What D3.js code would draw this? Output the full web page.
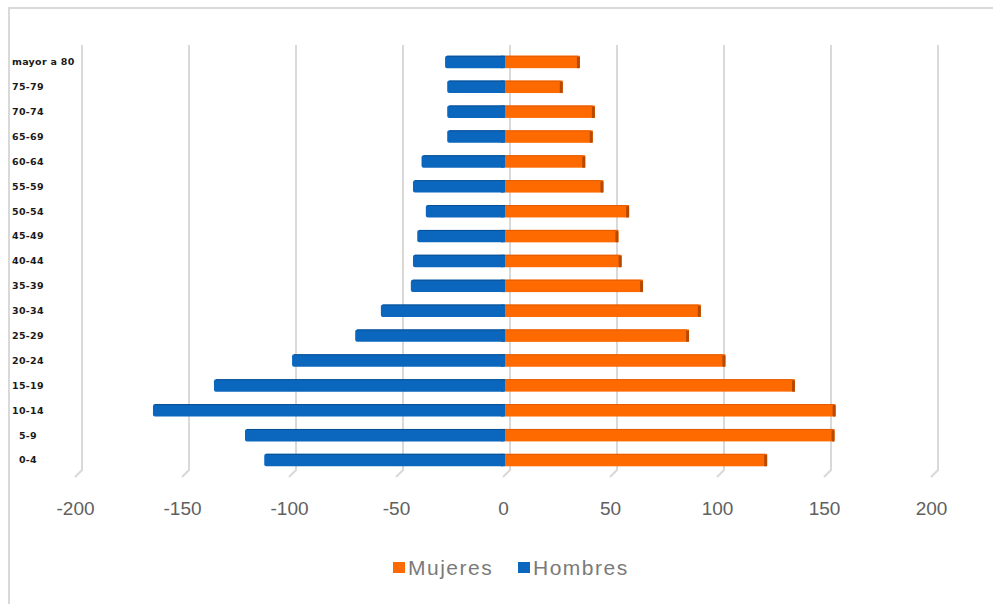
<!DOCTYPE html>
<html>
<head>
<meta charset="utf-8">
<script src="https://cdn.jsdelivr.net/npm/d3@7"></script>
<style>
  html, body { margin: 0; padding: 0; background: #fff; }
  svg { display: block; }
</style>
</head>
<body>
<svg id="chart" width="993" height="604"></svg>
<script>
// ---- data (bottom to top) ----
const categories = ["0-4","5-9","10-14","15-19","20-24","25-29","30-34","35-39","40-44","45-49","50-54","55-59","60-64","65-69","70-74","75-79","mayor a 80"];
const hombres = [-112.5,-121.5,-164.5,-136,-99.5,-70,-58,-44,-43,-41,-37,-43,-39,-27,-27,-27,-28];
const mujeres = [122.5,154,154.5,135.5,103,86,91.5,64.5,54.5,53,58,46,37.5,41,42,27,35];
const tickValues = [-200,-150,-100,-50,0,50,100,150,200];
const seriesNames = ["Mujeres","Hombres"];

const colors = { Mujeres: "#ff6a00", Hombres: "#0b67bd" };
const edgeColors = { Mujeres: "#b84a00", Hombres: "#0a4f93" };

const svg = d3.select("#chart");

// outer frame
svg.append("path")
  .attr("d", "M9,604 V8 H993")
  .attr("fill", "none")
  .attr("stroke", "#d9d9d9")
  .attr("stroke-width", 2);

const x = d3.scaleLinear().domain([-200, 200]).range([77, 933]);
const y = d3.scaleBand()
  .domain(categories.slice().reverse())
  .range([49.5, 472.5])
  .paddingInner(0.5)
  .paddingOuter(0.25);

// gridlines (3D style with slanted foot)
const gridG = svg.append("g");
tickValues.forEach(v => {
  const gx = x(v) + 5;
  gridG.append("path")
    .attr("d", `M${gx},45 V470 L${gx - 7},477`)
    .attr("fill", "none")
    .attr("stroke", "#d9d9d9")
    .attr("stroke-width", 2);
});

// tick labels
const axisG = svg.append("g")
  .attr("transform", "translate(-2,501)")
  .call(d3.axisBottom(x).tickValues(tickValues).tickSize(0).tickPadding(0).tickFormat(d3.format("d")));
axisG.select(".domain").remove();
axisG.selectAll("text")
  .attr("fill", "#606060")
  .attr("font-family", "'Liberation Sans', Arial, sans-serif")
  .attr("font-size", "19px")
  .text(d => d < 0 ? "-" + Math.abs(d) : d);

// bars
const data = categories.map((c, i) => ({ cat: c, h: hombres[i], m: mujeres[i] }));
const barG = svg.append("g");
const bh = y.bandwidth();

// Hombres (left)
barG.selectAll("rect.h").data(data).enter().append("rect")
  .attr("class", "h")
  .attr("x", d => x(d.h))
  .attr("y", d => y(d.cat))
  .attr("width", d => x(0) - x(d.h))
  .attr("height", bh)
  .attr("rx", 2)
  .attr("fill", colors.Hombres);
barG.selectAll("rect.h2").data(data).enter().append("rect")
  .attr("class", "h2")
  .attr("x", d => x(0) - 4)
  .attr("y", d => y(d.cat))
  .attr("width", 4)
  .attr("height", bh)
  .attr("fill", colors.Hombres);

// Mujeres (right)
barG.selectAll("rect.m").data(data).enter().append("rect")
  .attr("class", "m")
  .attr("x", x(0))
  .attr("y", d => y(d.cat))
  .attr("width", d => x(d.m) - x(0))
  .attr("height", bh)
  .attr("fill", colors.Mujeres);
barG.selectAll("rect.me").data(data).enter().append("rect")
  .attr("class", "me")
  .attr("x", d => x(d.m) - 3)
  .attr("y", d => y(d.cat) + 1)
  .attr("width", 3)
  .attr("height", bh - 1)
  .attr("rx", 1)
  .attr("fill", edgeColors.Mujeres);
// subtle top edge
barG.selectAll("line.mt").data(data).enter().append("line")
  .attr("x1", x(0)).attr("x2", d => x(d.m) - 2)
  .attr("y1", d => y(d.cat) + 0.5).attr("y2", d => y(d.cat) + 0.5)
  .attr("stroke", "#e35c00").attr("stroke-width", 1);
barG.selectAll("line.ht").data(data).enter().append("line")
  .attr("x1", d => x(d.h) + 2).attr("x2", x(0))
  .attr("y1", d => y(d.cat) + 0.5).attr("y2", d => y(d.cat) + 0.5)
  .attr("stroke", edgeColors.Hombres).attr("stroke-width", 1);

// category labels
const labG = svg.append("g");
labG.selectAll("text").data(categories).enter().append("text")
  .attr("y", d => y(d) + bh / 2)
  .attr("dy", "0.35em")
  .attr("font-family", "'DejaVu Sans', sans-serif")
  .attr("font-weight", "bold")
  .attr("font-size", "9.5px")
  .attr("letter-spacing", "0.3px")
  .attr("fill", "#1a1a1a")
  .text(d => d)
  .each(function() {
    const w = this.getComputedTextLength();
    d3.select(this).attr("x", Math.max(12, 28 - w / 2));
  });

// legend
const legend = svg.append("g").attr("transform", "translate(393,562)");
seriesNames.forEach((name, i) => {
  const g = legend.append("g").attr("transform", `translate(${i === 0 ? 0 : 125},0)`);
  g.append("rect").attr("width", 12).attr("height", 11).attr("fill", colors[name]);
  g.append("text")
    .attr("x", 15).attr("y", 5.5).attr("dy", "0.36em")
    .attr("font-family", "'Liberation Sans', Arial, sans-serif")
    .attr("font-size", "21px")
    .attr("letter-spacing", "1.5px")
    .attr("fill", "#7a7a7a")
    .text(name);
});
</script>
</body>
</html>
